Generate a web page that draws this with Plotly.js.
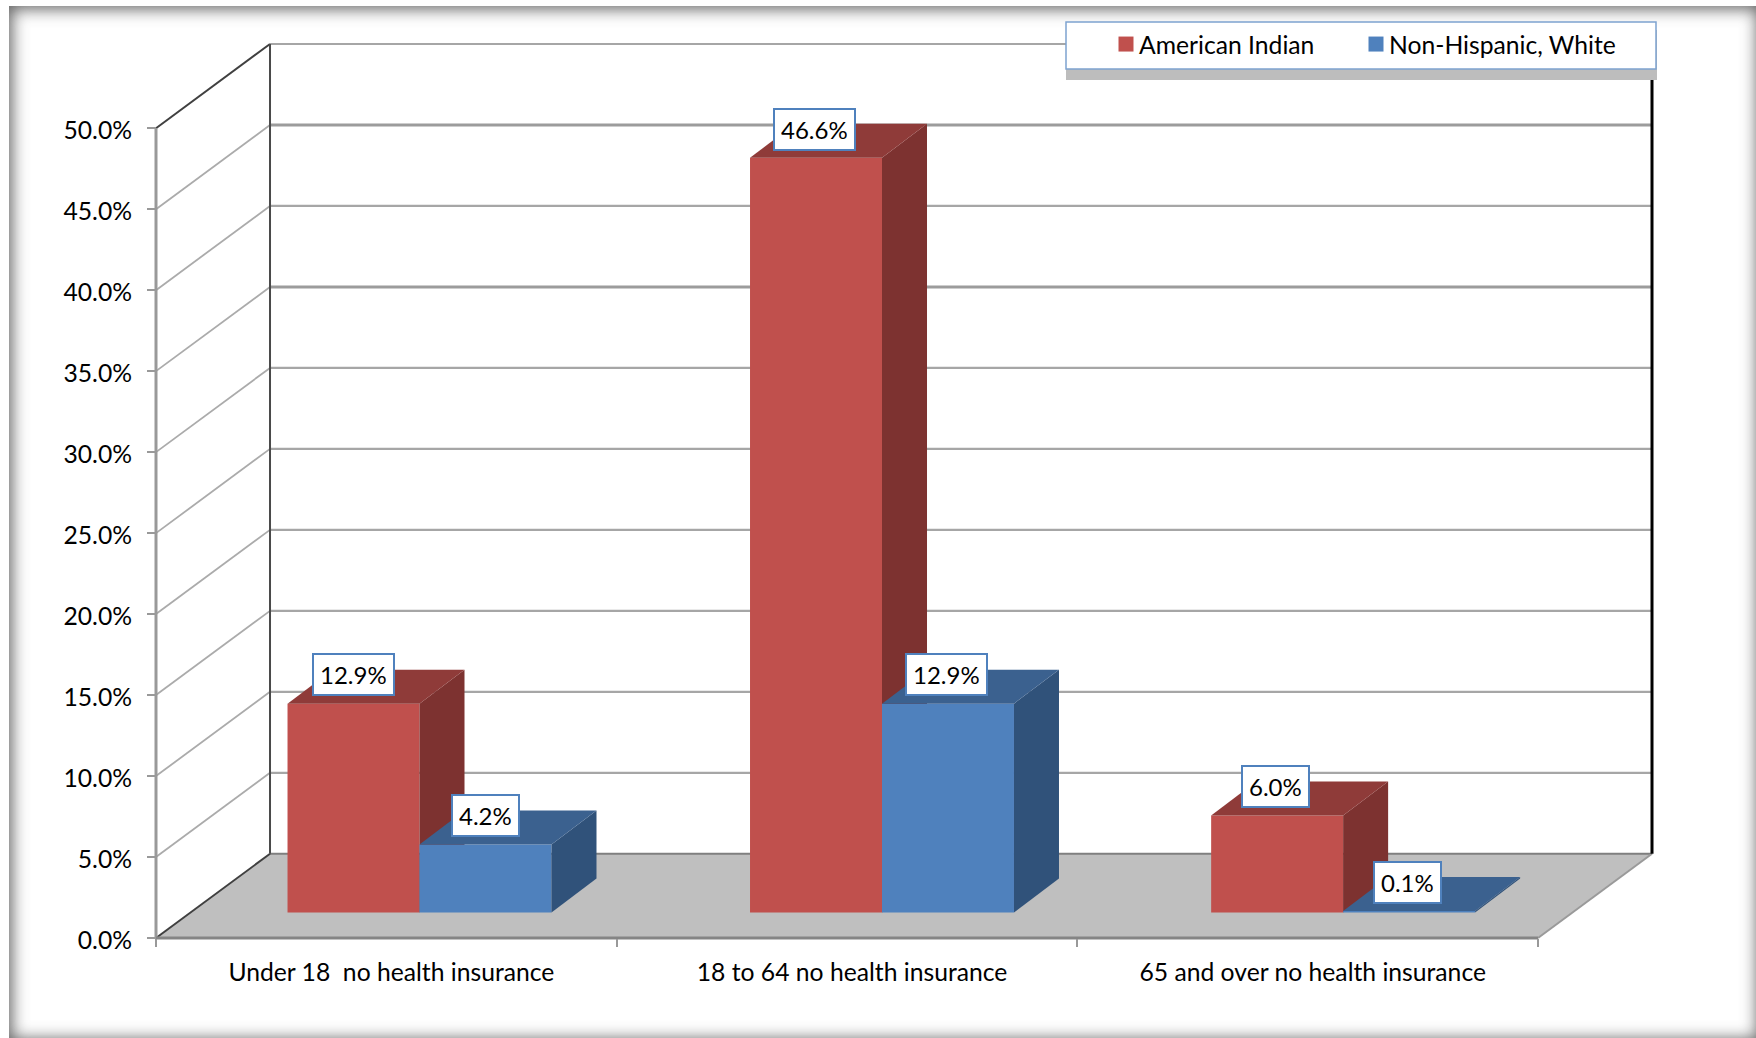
<!DOCTYPE html>
<html>
<head>
<meta charset="utf-8">
<script src="https://cdn.plot.ly/plotly-3.0.1.min.js"></script>
<style>
html,body{margin:0;padding:0;background:#fff;width:1756px;height:1038px;overflow:hidden}
#frame{position:absolute;left:9px;top:6px;width:1751px;height:1036px;background:#fff;box-shadow:inset 0 0 16px 3px rgba(70,70,70,.85)}
#chart{position:absolute;left:0;top:0;width:1756px;height:1038px}
</style>
</head>
<body>
<div id="frame"></div>
<div id="chart"></div>
<script>
const categories = ["Under 18  no health insurance", "18 to 64 no health insurance", "65 and over no health insurance"];
const seriesNames = ["American Indian", "Non-Hispanic, White"];
const americanIndian = [12.9, 46.6, 6.0];
const nonHispanicWhite = [4.2, 12.9, 0.1];
const yTicks = [0, 5, 10, 15, 20, 25, 30, 35, 40, 45, 50];
const catEdges = [0, 1, 2, 3];

// 3D projection, in axis units
const wallDx = 0.2475, wallDy = 5.2;
const barDx = 0.0977, barDy = 2.1, barBase = 1.57, barW = 0.2865, barShift = 0.076;
const barNudge = [-0.004, 0, 0.001];
const labelLift = 1.78;

const frontRed = '#c0504d', sideRed = '#7d3230', topRed = '#8f3b39';
const frontBlue = '#4f81bd', sideBlue = '#30527a', topBlue = '#3b618f';

// plot area, with a small pad so that edge lines are not clipped
const pad = 6, pxPerCat = 460.67, pxPerPct = 16.2;
const M = {l:150, r:98, t:38, b:93.5};
const plotW = 1756 - M.l - M.r, plotH = 1038 - M.t - M.b;
const xRange = [-pad/pxPerCat, 3 + wallDx + pad/pxPerCat];
const yRange = [-pad/pxPerPct, 55.2 + pad/pxPerPct];
const px = x => (x - M.l) / plotW, py = y => 1 - (y - M.t) / plotH;

const line = (x0, y0, x1, y1, color, width) => ({type:'line', xref:'x', yref:'y', layer:'below', x0, y0, x1, y1, line:{color, width}});
const shapes = [];
shapes.push({type:'path', xref:'x', yref:'y', layer:'below', line:{width:0}, fillcolor:'#bfbfbf',
  path:`M0,0 L${wallDx},${wallDy} L${3+wallDx},${wallDy} L3,0 Z`});
yTicks.forEach(v => {
  if (v > 0) shapes.push(line(wallDx, v+wallDy, 3+wallDx, v+wallDy, v===45||v===35? '#9c9c9c':'#a6a6a6', v===45||v===35? 3:2.2));
  if (v > 0 && v < 50) shapes.push(line(0, v, wallDx, v+wallDy, '#ababab', 1.8));
});
shapes.push(line(wallDx, wallDy, 3+wallDx, wallDy, '#7f7f7f', 2));
shapes.push(line(3, 0, 3+wallDx, wallDy, '#9a9a9a', 2));
shapes.push(line(0, 0, wallDx, wallDy, '#404040', 2));
shapes.push(line(0, 50, wallDx, 50+wallDy, '#404040', 2));
shapes.push(line(wallDx, wallDy, wallDx, 50+wallDy, '#4a4a4a', 2));
shapes.push(line(3+wallDx, wallDy, 3+wallDx, 50+wallDy, '#000000', 3));
shapes.push(line(0, 0, 0, 50, '#999999', 3));
shapes.push(line(0, 0, 3, 0, '#858585', 3));

// legend box and its shadow
const paper = (x0, y0, x1, y1, fill, stroke) => ({type:'rect', xref:'paper', yref:'paper', layer:'above',
  x0:px(x0), x1:px(x1), y0:py(y1), y1:py(y0), fillcolor:fill, line:{color:stroke||fill, width:stroke?1.5:0}});
shapes.push(paper(1066, 30, 1657, 80, '#bdbdbd'));
shapes.push(paper(1066, 22, 1656, 69, '#ffffff', '#7ea3d0'));

const barCenter = (i, s) => i + 0.5 + barShift + (s === 0 ? -barW/2 : barW/2);
const barX = (i, s) => barCenter(i, s) + barNudge[i];

function faces(values, s, sideColor, topColor, xa, ya) {
  const out = [];
  values.forEach((v, i) => {
    const xl = barX(i, s) - barW/2, xr = xl + barW, top = barBase + v;
    out.push({type:'scatter', mode:'none', fill:'toself', fillcolor:sideColor, hoverinfo:'skip', showlegend:false, xaxis:xa, yaxis:ya,
      x:[xr, xr+barDx, xr+barDx, xr, xr], y:[barBase, barBase+barDy, top+barDy, top, barBase]});
    out.push({type:'scatter', mode:'none', fill:'toself', fillcolor:topColor, hoverinfo:'skip', showlegend:false, xaxis:xa, yaxis:ya,
      x:[xl, xl+barDx, xr+barDx, xr, xl], y:[top, top+barDy, top+barDy, top, top]});
  });
  return out;
}

const bar = (values, s, color, xa, ya) => ({type:'bar', name:seriesNames[s], hoverinfo:'skip', xaxis:xa, yaxis:ya,
  x:values.map((_, i) => barX(i, s)), y:values, base:values.map(() => barBase), width:barW,
  marker:{color, line:{width:0}}});

const traces = [
  bar(americanIndian, 0, frontRed, 'x', 'y'),
  ...faces(americanIndian, 0, sideRed, topRed, 'x', 'y'),
  bar(nonHispanicWhite, 1, frontBlue, 'x2', 'y2'),
  ...faces(nonHispanicWhite, 1, sideBlue, topBlue, 'x2', 'y2')
];

const labelFont = {family:'Lato, sans-serif', size:24, color:'#000'};
const labels = [];
[[americanIndian, 0], [nonHispanicWhite, 1]].forEach(([vals, s]) => vals.forEach((v, i) => labels.push({
  xref:'x', yref:'y', x:barCenter(i, s) - 0.003, y:barBase + v + labelLift, text:v.toFixed(1)+'%', showarrow:false,
  xanchor:'center', yanchor:'middle', font:labelFont, height:27, bgcolor:'#fff', bordercolor:'#4f81bd', borderwidth:2, borderpad:6
})));

const axisFont = {family:'Lato, sans-serif', size:24.7, color:'#000'};
const legendFont = {family:'Lato, sans-serif', size:24.7, color:'#000'};
const layout = {
  width:1756, height:1038, autosize:false,
  paper_bgcolor:'rgba(0,0,0,0)', plot_bgcolor:'rgba(0,0,0,0)',
  margin:{l:M.l, r:M.r, t:M.t, b:M.b, pad:0},
  barmode:'overlay', hovermode:false, dragmode:false,
  font:axisFont,
  xaxis:{type:'linear', range:xRange, anchor:'free', position:pad/plotH, showgrid:false, zeroline:false, showline:false,
    tickmode:'array', tickvals:[0.511, 1.511, 2.511], ticktext:categories, ticks:'', ticklabelstandoff:17,
    tickfont:axisFont,
    minor:{tickmode:'array', tickvals:catEdges, ticks:'outside', ticklen:8, tickwidth:2, tickcolor:'#999', showgrid:false}},
  yaxis:{range:yRange, anchor:'free', position:pad/plotW, showgrid:false, zeroline:false, showline:false,
    tickmode:'array', tickvals:yTicks, ticktext:yTicks.map(v => v.toFixed(1)+'%'),
    ticks:'outside', ticklen:9, tickwidth:2, tickcolor:'#999', ticklabelstandoff:10, ticklabelshift:2,
    tickfont:axisFont},
  xaxis2:{type:'linear', overlaying:'x', range:xRange, visible:false},
  yaxis2:{overlaying:'y', range:yRange, visible:false},
  shapes, annotations:labels,
  legend:{orientation:'h', xref:'paper', yref:'paper', x:px(1106), y:py(44.5), xanchor:'left', yanchor:'middle',
    bgcolor:'rgba(0,0,0,0)', borderwidth:0, entrywidth:205, entrywidthmode:'pixels', traceorder:'normal',
    font:legendFont}
};

Plotly.newPlot('chart', traces, layout, {staticPlot:true, displayModeBar:false}).then(() => {
  document.querySelectorAll('.legend .legendpoints path').forEach(p => p.setAttribute('d', 'M7.5,7.5H-7.5V-7.5H7.5Z'));
  document.querySelectorAll('.legend .legendtext').forEach(t => t.setAttribute('x', 33));
  document.querySelectorAll('.legend [clip-path]').forEach(n => n.removeAttribute('clip-path'));
});
</script>
</body>
</html>
